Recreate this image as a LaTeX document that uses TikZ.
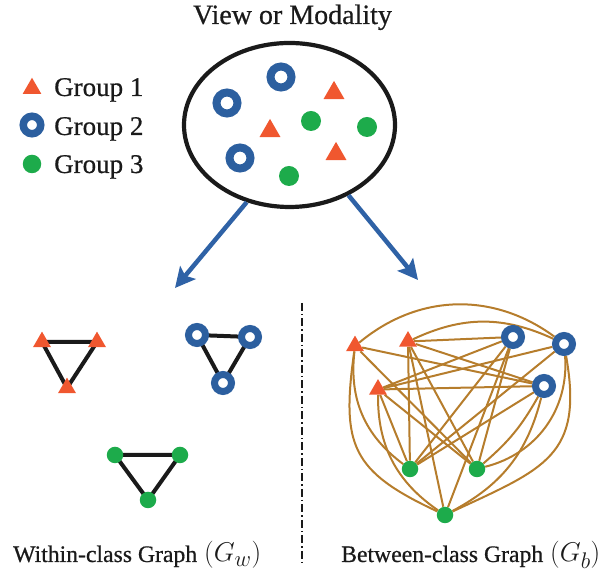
\documentclass[tikz,border=0pt]{standalone}
\usepackage{fontspec}
\setmainfont{Liberation Serif}[FakeBold=0.6]
\usetikzlibrary{shapes.geometric,arrows.meta}
\definecolor{triorange}{HTML}{F0572F}
\definecolor{ringblue}{HTML}{2C5F9F}
\definecolor{dotgreen}{HTML}{1DAB4B}
\definecolor{edgegold}{HTML}{B67D2C}
\definecolor{arrowblue}{HTML}{2F62A6}
\definecolor{inkblack}{HTML}{1A1A1A}
\pgfdeclarelayer{edges}
\pgfsetlayers{edges,main}
\newcommand{\titlefont}{\fontsize{28}{32}\selectfont}
\newcommand{\legendfont}{\fontsize{27}{32}\selectfont}
\newcommand{\capfont}{\fontsize{23.7}{28}\selectfont}
\newcommand{\capmath}[1]{\scalebox{1.09}{\fontsize{24.88}{30}\selectfont$#1$}}

\begin{document}
\begin{tikzpicture}[x=1pt,y=1pt,
  gtri/.style={regular polygon, regular polygon sides=3, fill=triorange,
    inner sep=0pt, minimum size=#1},
  gtri/.default=20.8,
  gring/.style={circle, draw=ringblue, fill=white, line width=7pt,
    inner sep=0pt, minimum size=#1},
  gring/.default=17,
  gdot/.style={circle, fill=dotgreen, inner sep=0pt, minimum size=#1},
  gdot/.default=16.5,
  within/.style={inkblack, line width=4pt},
  between/.style={edgegold, line width=2pt},
  spread/.style={arrowblue, line width=4.5pt,
    -{Stealth[length=20pt,width=20pt,inset=4pt]}},
  lbl/.style={inner sep=0pt, anchor=base west, text=inkblack},
]
\useasboundingbox (0,0) rectangle (613,577);

% ---- title and the view ellipse ----
\node[anchor=base, inner sep=0pt, text=inkblack, font=\titlefont] (title)
  at (292.5,553) {View or Modality};
\node[ellipse, draw=inkblack, line width=4.2pt, inner sep=0pt,
  minimum width=211pt, minimum height=164pt] (view) at (289.5,452) {};

% samples inside the view
\node[gring=21, line width=8pt] (vA) at (281,500) {};
\node[gring=21, line width=8pt] (vB) at (227,474) {};
\node[gring=21, line width=8pt] (vC) at (240,419) {};
\node[gtri=24.2] (vD) at (334,484) {};
\node[gtri=24.2] (vE) at (270,446) {};
\node[gtri=24.2] (vF) at (336,423) {};
\node[gdot=20] (vG) at (311,456) {};
\node[gdot=20] (vH) at (367,450) {};
\node[gdot=20] (vI) at (289,401) {};

% ---- legend ----
\node[gtri=21.5] (legtri) at (32,488.5) {};
\node[gring=17.5, line width=7.5pt] (legring) at (32,452) {};
\node[gdot=18.5] (legdot) at (32,413) {};
\node[lbl, font=\legendfont] (leg1) at (54,481) {Group 1};
\node[lbl, font=\legendfont] (leg2) at (54,442) {Group 2};
\node[lbl, font=\legendfont] (leg3) at (54,404) {Group 3};

% ---- arrows to the two graphs ----
\coordinate (wTip) at (175,289);
\coordinate (bTip) at (418,297);
\draw[spread] (view.241) -- (wTip);
\draw[spread] (view.-50) -- (bTip);

% ---- separator ----
\coordinate (sepTop) at (302,274);
\coordinate (sepBot) at (302,14);
\draw[inkblack, line width=1.6pt, dash pattern=on 8pt off 3pt on 1.5pt off 3pt]
  (sepTop) -- (sepBot);

% ---- within-class graph ----
\node[gtri] (wTa) at (42,235) {};
\node[gtri] (wTb) at (97,235) {};
\node[gtri] (wTc) at (67,189) {};
\node[gring] (wCa) at (197,242) {};
\node[gring] (wCb) at (250,240) {};
\node[gring] (wCc) at (223,194) {};
\node[gdot] (wGa) at (115,122) {};
\node[gdot] (wGb) at (180,122) {};
\node[gdot] (wGc) at (148,77) {};
\begin{pgfonlayer}{edges}
  \draw[within] (wTa.center) -- (wTb.center) -- (wTc.center) -- cycle;
  \draw[within] (wCa.center) -- (wCb.center) -- (wCc.center) -- cycle;
  \draw[within] (wGa.center) -- (wGb.center) -- (wGc.center) -- cycle;
\end{pgfonlayer}

% ---- between-class graph ----
\node[gtri] (T1) at (355,231) {};
\node[gtri] (T2) at (408,235.5) {};
\node[gtri] (T3) at (378,187.5) {};
\node[gring] (C1) at (513,240) {};
\node[gring] (C2) at (564,233) {};
\node[gring] (C3) at (544,191) {};
\node[gdot] (G1) at (410,108) {};
\node[gdot] (G2) at (477,108) {};
\node[gdot] (G3) at (445,62) {};
\begin{pgfonlayer}{edges}
  % triangles to circles
  \draw[between] (T1) to[bend left=38] (C2);
  \draw[between] (T2) to[bend left=25] (C2);
  \draw[between] (T1) -- (C3);
  \draw[between] (T2) -- (C1);
  \draw[between] (T2) -- (C3);
  \draw[between] (T3) -- (C1);
  \draw[between] (T3) -- (C2);
  \draw[between] (T3) -- (C3);
  % triangles to dots
  \draw[between] (T1) to[bend right=30] (G1);
  \draw[between] (T1) -- (G2);
  \draw[between] (T1) to[out=262,in=155,looseness=1.35] (G3);
  \draw[between] (T2) -- (G1);
  \draw[between] (T2) -- (G2);
  \draw[between] (T2) -- (G3);
  \draw[between] (T3) -- (G1);
  \draw[between] (T3) -- (G2);
  \draw[between] (T3) to[bend right=28] (G3);
  % circles to dots
  \draw[between] (C1) -- (G1);
  \draw[between] (C1) -- (G2);
  \draw[between] (C1) -- (G3);
  \draw[between] (C2) -- (G1);
  \draw[between] (C2) to[bend left=40] (G2);
  \draw[between] (C2) to[out=280,in=25,looseness=1.35] (G3);
  \draw[between] (C3) -- (G1);
  \draw[between] (C3) to[bend left=10] (G2);
  \draw[between] (C3) to[bend left=24] (G3);
\end{pgfonlayer}

% ---- captions ----
\node[lbl, font=\capfont] (wcap) at (13,15)
  {Within-class Graph\hspace{7pt}\capmath{(G_w)}};
\node[lbl, font=\capfont] (bcap) at (341,15)
  {Between-class Graph\hspace{7pt}\capmath{(G_b)}};
\end{tikzpicture}
\end{document}
